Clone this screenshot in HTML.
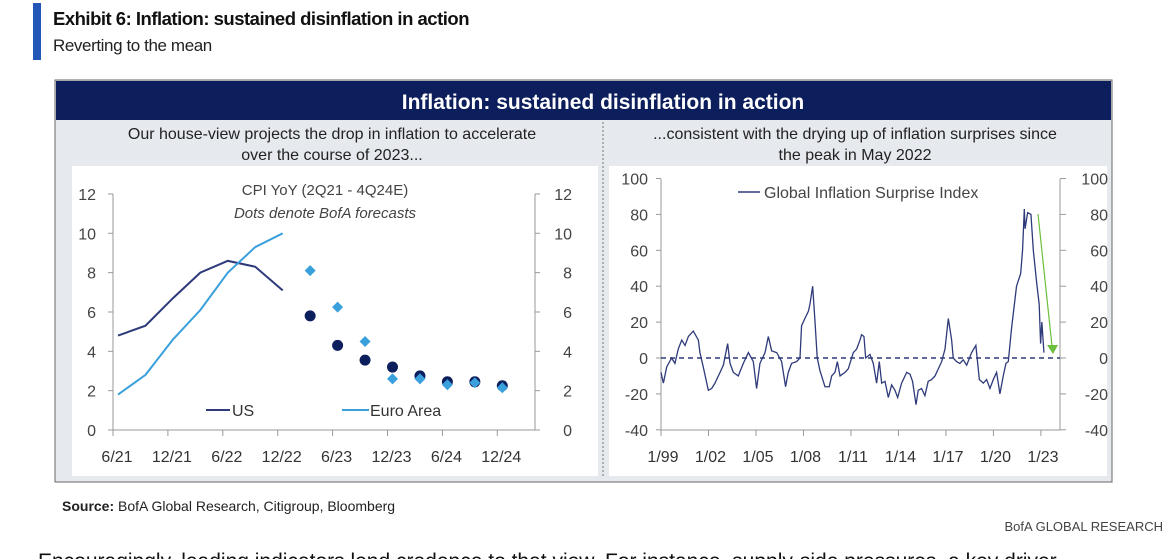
<!DOCTYPE html>
<html><head><meta charset="utf-8">
<style>
body{margin:0;width:1169px;height:559px;overflow:hidden;background:#fff;font-family:"Liberation Sans",sans-serif;position:relative}
.abs{position:absolute}
</style></head><body>
<div class="abs" style="left:33px;top:3px;width:8px;height:57px;background:#2456b8"></div>
<div class="abs" style="left:53px;top:8px;font-size:18.5px;font-weight:bold;color:#111;letter-spacing:-0.5px">Exhibit 6: Inflation: sustained disinflation in action</div>
<div class="abs" style="left:53px;top:36px;font-size:17px;color:#222;letter-spacing:-0.4px">Reverting to the mean</div>
<svg class="abs" style="left:0;top:0" width="1169" height="559">
<rect x="55" y="80" width="1057" height="402" fill="#e6e9ee" stroke="#666" stroke-width="1"/>
<rect x="56" y="81" width="1055" height="39" fill="#0d1e5c"/>
<text x="603" y="109" text-anchor="middle" font-size="21" font-weight="bold" fill="#fff">Inflation: sustained disinflation in action</text>
<text x="332" y="139" text-anchor="middle" font-size="16" fill="#222"><tspan x="332">Our house-view projects the drop in inflation to accelerate</tspan><tspan x="332" dy="21">over the course of 2023...</tspan></text>
<text x="855" y="139" text-anchor="middle" font-size="16" fill="#222"><tspan x="855">...consistent with the drying up of inflation surprises since</tspan><tspan x="855" dy="21">the peak in May 2022</tspan></text>
<line x1="603" y1="122" x2="603" y2="478" stroke="#777" stroke-dasharray="2,2"/>
<rect x="72" y="166" width="526" height="310" fill="#fff"/>
<rect x="609" y="166" width="498" height="310" fill="#fff"/>
<g id="left"></g><g id="right"></g>
<text x="62" y="511" font-size="14" fill="#222"><tspan font-weight="bold">Source:</tspan> BofA Global Research, Citigroup, Bloomberg</text>
<text x="1163" y="531" text-anchor="end" font-size="13" fill="#444">BofA GLOBAL RESEARCH</text>
<text x="38" y="568" font-size="21" fill="#111">Encouragingly, leading indicators lend credence to that view. For instance, supply-side pressures, a key driver</text>
</svg>
<script>
const NS="http://www.w3.org/2000/svg";
function mk(p,tag,a){const e=document.createElementNS(NS,tag);for(const k in a)e.setAttribute(k,a[k]);p.appendChild(e);return e;}
// ---- Left chart data ----
const cpiXLabels=["6/21","12/21","6/22","12/22","6/23","12/23","6/24","12/24"];
const cpiYTicks=[0,2,4,6,8,10,12];
const usActual=[4.8,5.3,6.7,8.0,8.6,8.3,7.1];
const euActual=[1.8,2.8,4.6,6.1,8.0,9.3,10.0];
const usForecast=[5.8,4.3,3.55,3.2,2.75,2.45,2.45,2.25];
const euForecast=[8.1,6.25,4.5,2.6,2.6,2.3,2.4,2.15];
// ---- Right chart data ----
const gisYTicks=[-40,-20,0,20,40,60,80,100];
const gisXLabels=["1/99","1/02","1/05","1/08","1/11","1/14","1/17","1/20","1/23"];
const gisDates=[1999.0,1999.15,1999.36,1999.67,1999.88,2000.09,2000.31,2000.52,2000.73,2001.04,2001.36,2001.46,2001.67,2001.99,2002.2,2002.41,2002.73,2002.94,2003.21,2003.36,2003.57,2003.88,2004.2,2004.52,2004.83,2005.04,2005.25,2005.57,2005.78,2005.99,2006.31,2006.62,2006.87,2007.04,2007.25,2007.57,2007.78,2007.88,2008.09,2008.31,2008.41,2008.58,2008.73,2008.87,2009.04,2009.36,2009.63,2009.78,2009.99,2010.14,2010.31,2010.62,2010.83,2011.15,2011.36,2011.57,2011.67,2011.82,2011.93,2012.2,2012.41,2012.62,2012.79,2012.94,2013.15,2013.36,2013.57,2013.78,2013.95,2014.2,2014.52,2014.73,2014.89,2015.11,2015.25,2015.46,2015.67,2015.88,2016.09,2016.31,2016.52,2016.73,2016.94,2017.15,2017.36,2017.46,2017.67,2017.88,2018.09,2018.31,2018.62,2018.89,2019.11,2019.36,2019.57,2019.78,2019.99,2020.2,2020.41,2020.62,2020.79,2020.94,2021.15,2021.46,2021.72,2021.84,2021.95,2022.0,2022.16,2022.37,2022.52,2022.73,2022.89,2022.98,2023.06,2023.19];
const gisValues=[-8,-14,-5,0,-3,5,10,7,12,15,10,3,-5,-18,-17,-14,-8,-4,8,-3,-8,-10,-3,3,-2,-17,-3,3,12,4,3,-2,-16,-8,-3,-2,0,18,22,26,30,40,20,0,-7,-16,-16,-10,-8,-2,-10,-8,-6,3,5,10,13,12,0,2,-3,-14,-2,-14,-13,-22,-15,-18,-22,-14,-8,-9,-13,-26,-18,-17,-21,-13,-12,-10,-6,-2,5,22,10,0,-2,-3,-1,-4,3,7,-12,-14,-12,-17,-12,-8,-20,-10,-3,-2,17,40,47,60,83,72,81,80,60,42,30,8,20,3];

const L=document.getElementById('left');
const lx=i=>118+27.45*i, ly=v=>430-v*19.67;
mk(L,'line',{x1:113,y1:430,x2:535,y2:430,stroke:'#999'});
mk(L,'line',{x1:113,y1:194,x2:113,y2:430,stroke:'#999'});
mk(L,'line',{x1:535,y1:194,x2:535,y2:430,stroke:'#999'});
cpiYTicks.forEach(v=>{
 mk(L,'line',{x1:108,y1:ly(v),x2:113,y2:ly(v),stroke:'#999'});
 mk(L,'line',{x1:535,y1:ly(v),x2:540,y2:ly(v),stroke:'#999'});
 let t=mk(L,'text',{x:96,y:ly(v)+6,'text-anchor':'end','font-size':16,fill:'#444'});t.textContent=v;
 
 let t2=mk(L,'text',{x:572,y:ly(v)+6,'text-anchor':'end','font-size':16,fill:'#444'});t2.textContent=v;
 
});
cpiXLabels.forEach((s,i)=>{const x=113+i*54.9;
 mk(L,'line',{x1:x,y1:430,x2:x,y2:436,stroke:'#999'});
 let t=mk(L,'text',{x:x+4,y:462,'text-anchor':'middle','font-size':16,fill:'#333'});t.textContent=s;
 
});
let lt=mk(L,'text',{x:325,y:195,'text-anchor':'middle','font-size':15,fill:'#444'});lt.textContent='CPI YoY (2Q21  - 4Q24E)';

let lt2=mk(L,'text',{x:325,y:218,'text-anchor':'middle','font-size':15,'font-style':'italic',fill:'#444'});lt2.textContent='Dots denote BofA forecasts';

const us=mk(L,'polyline',{points:usActual.map((v,i)=>lx(i)+','+ly(v)).join(' '),fill:'none',stroke:'#2e3a7a','stroke-width':2});

const eu=mk(L,'polyline',{points:euActual.map((v,i)=>lx(i)+','+ly(v)).join(' '),fill:'none',stroke:'#3aa0dc','stroke-width':2});

usForecast.forEach((v,i)=>{const c=mk(L,'circle',{cx:lx(i+7),cy:ly(v),r:5.5,fill:'#0d1e5c'});
 });
euForecast.forEach((v,i)=>{const x=lx(i+7),y=ly(v),r=5.5;const d=mk(L,'polygon',{points:`${x},${y-r} ${x+r},${y} ${x},${y+r} ${x-r},${y}`,fill:'#3aa0dc'});
 });
mk(L,'line',{x1:206,y1:410,x2:230,y2:410,stroke:'#2e3a7a','stroke-width':2});
let lg1=mk(L,'text',{x:232,y:416,'font-size':16,fill:'#333'});lg1.textContent='US';

mk(L,'line',{x1:342,y1:410,x2:369,y2:410,stroke:'#3aa0dc','stroke-width':2});
let lg2=mk(L,'text',{x:370,y:416,'font-size':16,fill:'#333'});lg2.textContent='Euro Area';


const R=document.getElementById('right');
const rx=d=>661+(d-1999)*15.83, ry=v=>358-v*1.795;
mk(R,'line',{x1:661,y1:430,x2:1060,y2:430,stroke:'#999'});
mk(R,'line',{x1:661,y1:179,x2:661,y2:430,stroke:'#999'});
mk(R,'line',{x1:1060,y1:179,x2:1060,y2:430,stroke:'#999'});
gisYTicks.forEach(v=>{
 mk(R,'line',{x1:656,y1:ry(v),x2:661,y2:ry(v),stroke:'#999'});
 mk(R,'line',{x1:1060,y1:ry(v),x2:1066,y2:ry(v),stroke:'#999'});
 let t=mk(R,'text',{x:648,y:ry(v)+6,'text-anchor':'end','font-size':16,fill:'#444'});t.textContent=v;
 
 let t2=mk(R,'text',{x:1108,y:ry(v)+6,'text-anchor':'end','font-size':16,fill:'#444'});t2.textContent=v;
 
});
gisXLabels.forEach((s,i)=>{const x=rx(1999+3*i);
 mk(R,'line',{x1:x,y1:430,x2:x,y2:436,stroke:'#999'});
 let t=mk(R,'text',{x:x+2,y:462,'text-anchor':'middle','font-size':16,fill:'#333'});t.textContent=s;
 
});
mk(R,'line',{x1:661,y1:ry(0),x2:1060,y2:ry(0),stroke:'#2e3a7a','stroke-width':1.5,'stroke-dasharray':'5,4'});
const g=mk(R,'polyline',{points:gisValues.map((v,i)=>rx(gisDates[i])+','+ry(v)).join(' '),fill:'none',stroke:'#2e3a7a','stroke-width':1.3});

mk(R,'line',{x1:738,y1:192,x2:760,y2:192,stroke:'#2e3a7a','stroke-width':1.5});
let rl=mk(R,'text',{x:764,y:198,'font-size':16,fill:'#444'});rl.textContent='Global Inflation Surprise Index';

const ar=mk(R,'line',{x1:1038,y1:214,x2:1052,y2:346,stroke:'#6cbf3c','stroke-width':1.2});

mk(R,'polygon',{points:'1047,345 1058,345 1053,354',fill:'#6cbf3c'});
</script>
</body></html>
